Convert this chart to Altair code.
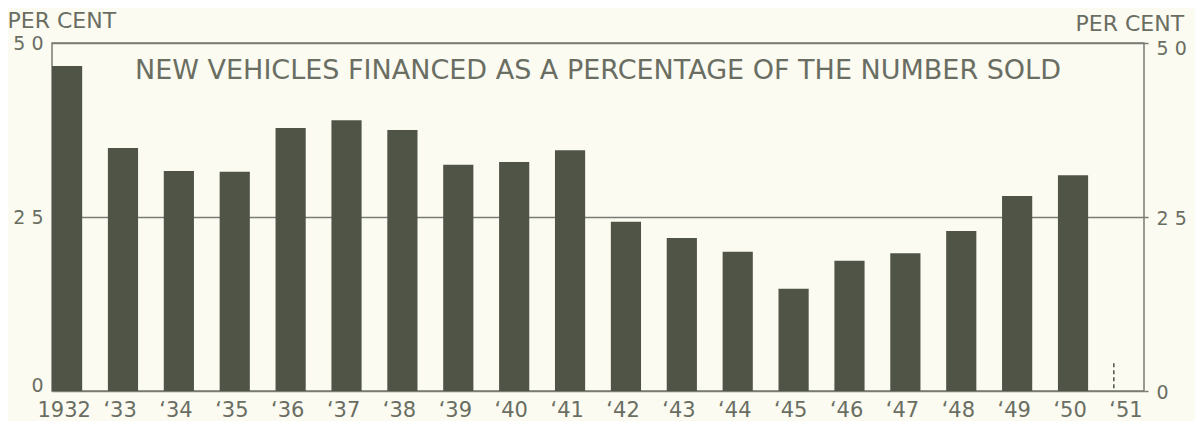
import altair as alt
import pandas as pd

# ---- data ----
years = list(range(1932, 1951))
values = [46.7, 34.9, 31.6, 31.5, 37.8, 38.9, 37.5, 32.5, 32.9, 34.6,
          24.3, 22.0, 20.0, 14.7, 18.7, 19.8, 23.0, 28.0, 31.0]
partial_year = [1951]
partial_value = [4.0]
y_ticks = [0, 25, 50]
x_ticks = list(range(1932, 1952))
chart_title = "NEW VEHICLES FINANCED AS A PERCENTAGE OF THE NUMBER SOLD"
axis_title = "PER CENT"

# ---- styles ----
FONT = "DejaVu Sans"
BG = "#fbfbf2"
BAR = "#4f5447"
TXT = "#6a6e62"
LINE = "#7a7c74"

df = pd.DataFrame({"year": years, "value": values})
pdf = pd.DataFrame({"year": partial_year, "value": partial_value})
tdf = pd.DataFrame({"t": [chart_title]})

xscale = alt.Scale(domain=[1932, 1951.54], nice=False, zero=False)
yscale = alt.Scale(domain=[0, 50], nice=False)

x_axis = alt.Axis(
    orient="bottom", values=x_ticks, title=None,
    labelExpr="datum.value == 1932 ? '1932' : '\u2018' + slice(toString(datum.value), 2)",
    ticks=False, domain=False, grid=False,
    labelAlign="left",
    labelOffset={"condition": {"test": "datum.value == 1932", "value": -15}, "value": -5},
    labelFontSize=21, labelColor=TXT, labelFont=FONT, labelPadding=8,
    labelOverlap=False, labelFlush=False, labelBound=False,
)

left_axis = alt.Axis(
    orient="left", values=y_ticks,
    labelExpr="datum.value == 50 ? '5 0' : datum.value == 25 ? '2 5' : '0'",
    labelOffset={"condition": {"test": "datum.value == 0", "value": -6}, "value": 0},
    ticks=False, domain=False, grid=True, gridColor=LINE, gridWidth=1.5,
    labelFontSize=19, labelColor=TXT, labelFont=FONT, labelPadding=9,
    title=axis_title, titleAngle=0, titleAlign="left", titleBaseline="top",
    titleX=-45, titleY=-33, titleFontSize=22, titleFontWeight="normal",
    titleColor=TXT, titleFont=FONT,
)

right_axis = alt.Axis(
    orient="right", values=y_ticks,
    labelExpr="datum.value == 50 ? '5 0' : datum.value == 25 ? '2 5' : '0'",
    labelOffset={"condition": {"test": "datum.value == 50", "value": 5}, "value": 1},
    ticks=True, tickSize=4, tickColor=LINE, tickWidth=1.5,
    domain=False, grid=False,
    labelFontSize=19, labelColor=TXT, labelFont=FONT, labelPadding=8,
    title=axis_title, titleAngle=0, titleAlign="left", titleBaseline="top",
    titleX=-69, titleY=-30, titleFontSize=22, titleFontWeight="normal",
    titleColor=TXT, titleFont=FONT,
)

bars = alt.Chart(df).transform_calculate(end="datum.year + 0.54").mark_bar(
    color=BAR, opacity=1
).encode(
    x=alt.X("year:Q", scale=xscale, axis=x_axis),
    x2="end:Q",
    y=alt.Y("value:Q", scale=yscale, axis=left_axis),
    y2=alt.datum(0),
)

dash = alt.Chart(pdf).mark_rule(
    color=BAR, strokeDash=[4, 3], strokeWidth=1.5
).encode(
    x=alt.X("year:Q", scale=xscale),
    y=alt.Y("value:Q", scale=yscale, axis=right_axis),
    y2=alt.datum(0),
)

title = alt.Chart(tdf).mark_text(
    font=FONT, fontSize=27, color=TXT, align="center", baseline="middle"
).encode(
    text="t:N", x=alt.value(546), y=alt.value(28)
)

chart = alt.layer(bars, dash, title).resolve_axis(y="independent").properties(
    width=1092, height=348,
    background=BG,
    autosize=alt.AutoSizeParams(type="none"),
    padding={"left": 44, "top": 35, "right": 51, "bottom": 30},
).configure_view(stroke=LINE, strokeWidth=1.5)

chart.save("out.html", embed_options={"renderer": "svg", "actions": False})
